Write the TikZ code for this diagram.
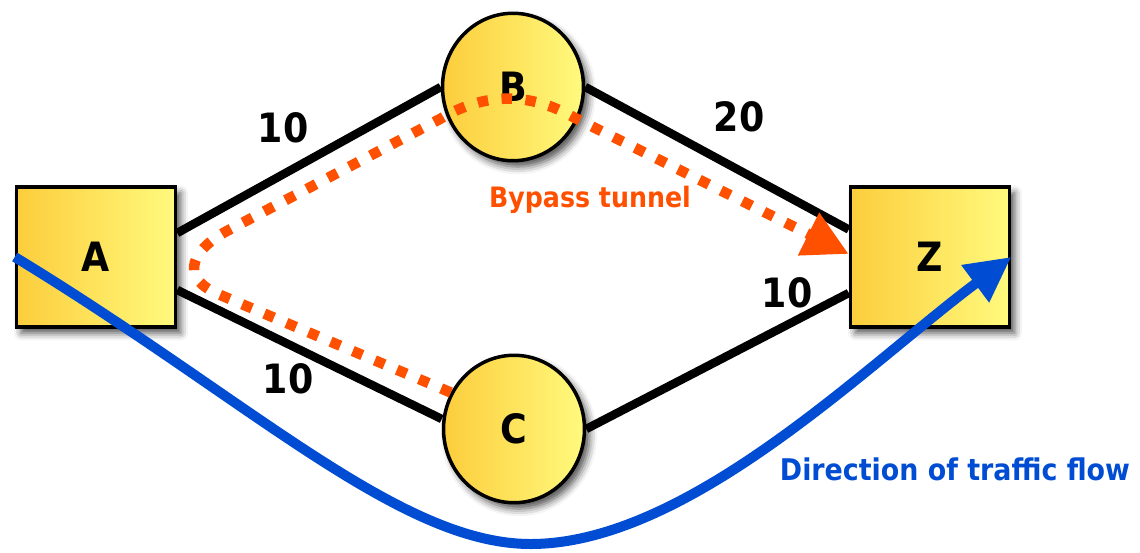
\documentclass[tikz,border=0pt]{standalone}
\usepackage{fontspec}
\setmainfont{DejaVu Sans Condensed}
\usepackage{tikz}
\usepackage{xcolor}
\usetikzlibrary{arrows.meta,shapes,shadows.blur,backgrounds}
\definecolor{goldL}{RGB}{252,205,60}
\definecolor{goldR}{RGB}{255,250,125}
\definecolor{tunnelor}{RGB}{255,80,0}
\definecolor{flowblue}{RGB}{0,77,212}
\tikzset{
 router/.style={draw=black,line width=0.07cm,left color=goldL,right color=goldR,
  font=\bfseries\fontsize{23}{23}\selectfont,
  blur shadow={shadow xshift=0.1cm,shadow yshift=-0.12cm,shadow blur radius=0.15cm,shadow opacity=70}},
 edgebox/.style={router,rectangle,minimum width=3.18cm,minimum height=2.8cm},
 corecirc/.style={router,ellipse,minimum width=2.82cm,minimum height=2.95cm},
 link/.style={line width=0.17cm},
 metric/.style={anchor=base,font=\bfseries\fontsize{23}{23}\selectfont}
}
\begin{document}
\begin{tikzpicture}[x=0.02cm,y=0.02cm]
\useasboundingbox(0,0)rectangle(1140,552);
\node[edgebox](A)at(96,295){A};
\node[edgebox](Z)at(930,295){Z};
\node[corecirc](B)at(513,465){B};
\node[corecirc](C)at(514,123){C};
\begin{scope}[on background layer]
\draw[link]([yshift=0.48cm]A.east)--(B.west);
\draw[link]([yshift=-0.66cm]A.east)--([yshift=0.2cm]C.west);
\draw[link](B.east)--([yshift=0.55cm]Z.west);
\draw[link](C.east)--([yshift=-0.72cm]Z.west);
\end{scope}
\node[metric](mAB)at(283,409){10};
\node[metric](mAC)at(288,159){10};
\node[metric](mBZ)at(739,420){20};
\node[metric](mCZ)at(787,245){10};
% bypass tunnel A-B-Z
\draw[tunnelor,line width=0.21cm,dash pattern=on 0.21cm off 0.27cm,-{Triangle[length=0.9cm,width=0.9cm]}]
(C.150)--(218,258)..controls(185,272)and(185,297)..(225,320)--(440,433)
..controls(485,460)and(530,460)..(575,434)--([yshift=0.06cm]Z.west);
\node[anchor=base,tunnelor,font=\bfseries\fontsize{16}{16}\selectfont](tun)at(590,344){Bypass tunnel};
% traffic flow
\draw[flowblue,line width=0.2cm,-{Triangle[length=0.9cm,width=0.88cm]}]
(A.west)..controls(250,152)and(400,7)..(532,8)..controls(690,9)and(870,190)..(Z.east);
\node[anchor=base,flowblue,font=\bfseries\fontsize{17}{17}\selectfont](flow)at(955,72){Direction of traffic flow};
\end{tikzpicture}
\end{document}
